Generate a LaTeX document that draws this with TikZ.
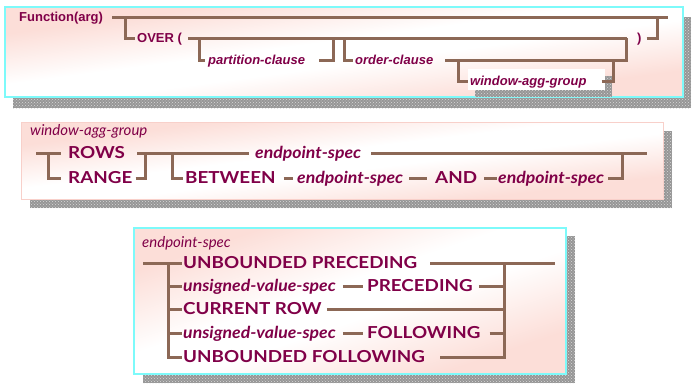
\documentclass[tikz,border=0pt]{standalone}
\usepackage{fontspec}
\setmainfont{Liberation Sans}
\newfontfamily\gill{Lato}[BoldFeatures={FakeStretch=1.14},BoldItalicFeatures={FakeStretch=1.07}]
\usetikzlibrary{patterns}
\definecolor{txt}{RGB}{128,0,72}
\definecolor{rrc}{RGB}{140,104,86}
\definecolor{pinkbg}{RGB}{252,222,216}
\definecolor{cyanb}{RGB}{125,250,250}
\definecolor{pinkb}{RGB}{248,208,202}
\definecolor{shad}{RGB}{150,150,150}
\pgfdeclareverticalshading{pnlshade}{100bp}{color(0bp)=(pinkbg); color(25bp)=(pinkbg); color(45bp)=(white); color(55bp)=(white); color(75bp)=(pinkbg); color(100bp)=(pinkbg)}
\tikzset{
  rr/.style={draw=rrc, line width=3pt, line cap=butt, line join=miter},
  shadowbox/.style={fill=shad, postaction={pattern=crosshatch dots, pattern color=white!85!black}},
  panel/.style={shading=pnlshade, shading angle=45},
  ta/.style={anchor=west, inner sep=0pt, text=txt, font=\fontsize{13}{13}\selectfont\bfseries, text height=9.3pt, text depth=0pt},
  tai/.style={ta, font=\fontsize{13}{13}\selectfont\bfseries\itshape},
  tb/.style={anchor=west, inner sep=0pt, text=txt, font=\gill\fontsize{16.5}{16.5}\selectfont\bfseries, text height=11.8pt, text depth=0pt},
  tbi/.style={tb, font=\gill\fontsize{16.5}{16.5}\selectfont\bfseries\itshape},
  ttl/.style={anchor=base west, inner sep=0pt, text=txt, font=\gill\fontsize{15}{15}\selectfont\itshape},
}
\begin{document}
\begin{tikzpicture}[x=1pt,y=-1pt]
\useasboundingbox (0,0) rectangle (692,386);
% ---------- panel 1 ----------
\fill[shadowbox] (13,17) rectangle (691,108);
\shade[panel, transform canvas={shift={(5,7)}, xscale=67.8, yscale=9}] (0,0) rectangle (10,10);
\draw[cyanb, line width=2pt] (5,7) rectangle (683,97);
\fill[shadowbox] (475,76) rectangle (612,97);
\fill[white] (468,69) rectangle (605,90);
\node[ta]  (fn)   at (19,17)  {Function(arg)};
\node[ta]  (over) at (137,38) {OVER (};
\node[tai] (part) at (208,60) {partition-clause};
\node[tai] (ord)  at (355,60) {order-clause};
\node[tai] (wag)  at (470,81) {window-agg-group};
\node[ta]  (rp)   at (637,38) {)};
\coordinate (e1) at (668,17);
\coordinate (b1) at (125,17);
\coordinate (m1) at (657,17);
\coordinate (e2) at (627,38);
\coordinate (b2) at (199,38);
\coordinate (m2) at (333,38);
\coordinate (b3) at (344,38);
\coordinate (m3) at (626,38);
\coordinate (b4) at (458,60);
\coordinate (m4) at (613,60);
\draw[rr] ([xshift=9pt]fn.east) -- (e1);
\draw[rr] (b1) |- ([xshift=-2pt]over.west);
\draw[rr] ([xshift=6pt]over.east) -- (e2);
\draw[rr] ([xshift=5pt]rp.east) -| (m1);
\draw[rr] (b2) |- ([xshift=-3pt]part.west);
\draw[rr] ([xshift=14pt]part.east) -| (m2);
\draw[rr] (b3) |- ([xshift=-2pt]ord.west);
\draw[rr] ([xshift=12pt]ord.east) -| (m3);
\draw[rr] (b4) |- ([xshift=-2pt]wag.west);
\draw[rr] ([xshift=15pt]wag.east) -| (m4);
% ---------- panel 2 ----------
\fill[shadowbox] (30,131) rectangle (672,208);
\shade[panel, transform canvas={shift={(21,122)}, xscale=64.2, yscale=7.7}] (0,0) rectangle (10,10);
\draw[pinkb, line width=1pt] (21,122) rectangle (663,199);
\node[ttl] (t2) at (30,135) {window-agg-group};
\node[tb]  (rows)  at (68,153)  {ROWS};
\node[tb]  (range) at (68,178)  {RANGE};
\node[tbi] (ep1)   at (255,153) {endpoint-spec};
\node[tb]  (betw)  at (185,178) {BETWEEN};
\node[tbi] (ep2)   at (297,178) {endpoint-spec};
\node[tb]  (and)   at (435,178) {AND};
\node[tbi] (ep3)   at (498,178) {endpoint-spec};
\coordinate (s2) at (36,153);
\coordinate (b21) at (48,153);
\coordinate (m21) at (145,153);
\coordinate (b22) at (172,153);
\coordinate (e2b) at (647,153);
\coordinate (m22) at (622,153);
\draw[rr] (s2) -- ([xshift=-7pt]rows.west);
\draw[rr] (b21) |- ([xshift=-7pt]range.west);
\draw[rr] ([xshift=12pt]rows.east) -- ([xshift=-6pt]ep1.west);
\draw[rr] ([xshift=3pt]range.east) -| (m21);
\draw[rr] (b22) |- ([xshift=-2pt]betw.west);
\draw[rr] ([xshift=10pt]ep1.east) -- (e2b);
\draw[rr] ([xshift=8pt]betw.east) -- ([xshift=-4pt]ep2.west);
\draw[rr] ([xshift=6pt]ep2.east) -- ([xshift=-8pt]and.west);
\draw[rr] ([xshift=7pt]and.east) -- ([xshift=-1pt]ep3.west);
\draw[rr] ([xshift=4pt]ep3.east) -| (m22);
% ---------- panel 3 ----------
\fill[shadowbox] (143,236) rectangle (575,383);
\shade[panel, transform canvas={shift={(134,228)}, xscale=43.2, yscale=14.6}] (0,0) rectangle (10,10);
\draw[cyanb, line width=2pt] (134,228) rectangle (566,374);
\node[ttl] (t3) at (142,247) {endpoint-spec};
\node[tb]  (ub1)  at (183,263) {UNBOUNDED PRECEDING};
\node[tbi] (uv1)  at (183,286) {unsigned-value-spec};
\node[tb]  (prec) at (367,286) {PRECEDING};
\node[tb]  (cur)  at (183,309) {CURRENT ROW};
\node[tbi] (uv2)  at (183,333) {unsigned-value-spec};
\node[tb]  (foll) at (367,333) {FOLLOWING};
\node[tb]  (ub2)  at (183,357) {UNBOUNDED FOLLOWING};
\coordinate (s3) at (143,263);
\coordinate (v3) at (168,263);
\coordinate (k2) at (168,286);
\coordinate (k3) at (168,309);
\coordinate (k4) at (168,333);
\coordinate (e3) at (555,263);
\coordinate (r1) at (504,263);
\coordinate (r2) at (504,286);
\coordinate (r3) at (504,309);
\coordinate (r4) at (504,333);
\draw[rr] (s3) -- ([xshift=-1pt]ub1.west);
\draw[rr] (v3) |- ([xshift=-1pt]ub2.west);
\draw[rr] (k2) -- ([xshift=-1pt]uv1.west);
\draw[rr] (k3) -- ([xshift=-1pt]cur.west);
\draw[rr] (k4) -- ([xshift=-1pt]uv2.west);
\draw[rr] ([xshift=13pt]ub1.east) -- (e3);
\draw[rr] ([xshift=7pt]uv1.east) -- ([xshift=-4pt]prec.west);
\draw[rr] ([xshift=6pt]prec.east) -- (r2);
\draw[rr] ([xshift=5pt]cur.east) -- (r3);
\draw[rr] ([xshift=7pt]uv2.east) -- ([xshift=-4pt]foll.west);
\draw[rr] ([xshift=9pt]foll.east) -- (r4);
\draw[rr] ([xshift=15pt]ub2.east) -| (r1);
\end{tikzpicture}
\end{document}
